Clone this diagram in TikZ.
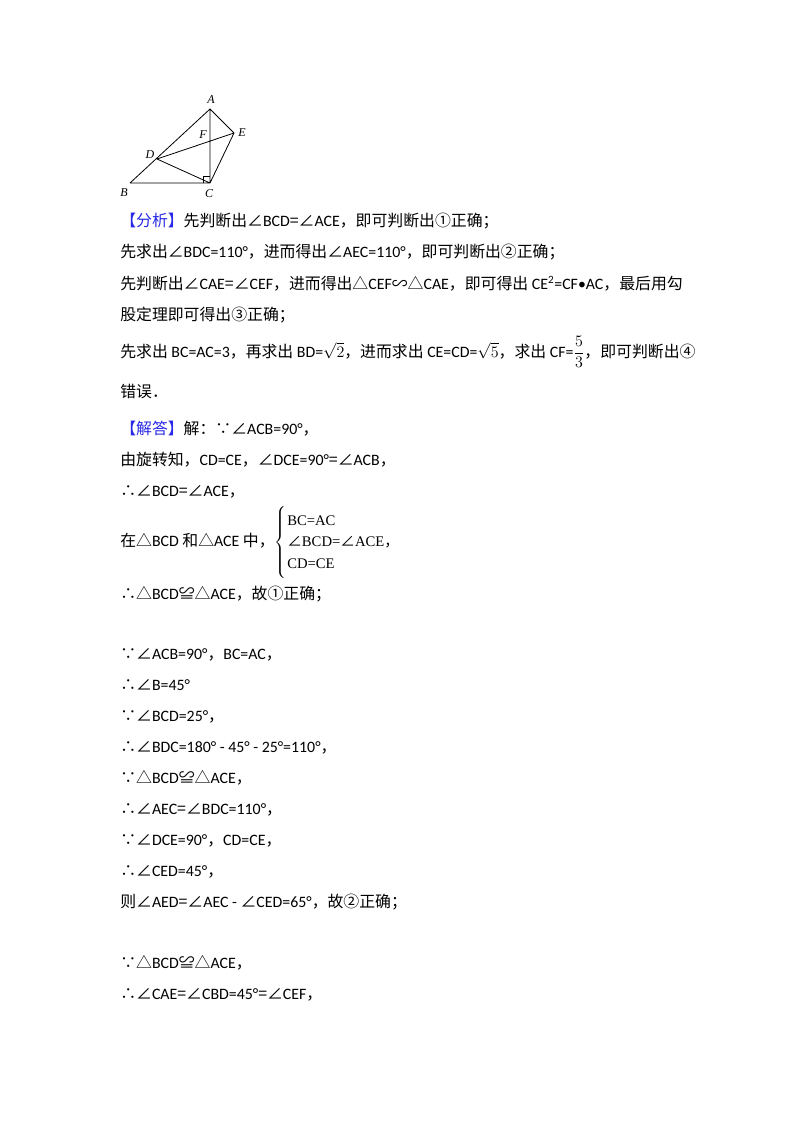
\documentclass[tikz,border=0pt]{standalone}
\usepackage{fontspec}
\setmainfont{Noto Sans CJK SC}
\newfontfamily\cjk{Noto Sans CJK SC}
\newfontfamily\lat{Carlito}
\newfontfamily\serifit{Liberation Serif}
\definecolor{hblue}{RGB}{40,40,230}
\begin{document}
\begin{tikzpicture}[x=0.75pt,y=-0.75pt,
  ln/.style={anchor=base west,inner sep=0,font=\fontsize{11.9pt}{13pt}\selectfont},
  lab/.style={font=\serifit\itshape\fontsize{9pt}{10pt}\selectfont,inner sep=0},
  seg/.style={line width=0.6pt}]
\useasboundingbox (0,0) rectangle (800,1132);
\coordinate (A) at (210,109);
\coordinate (B) at (130,183);
\coordinate (C) at (210,183);
\coordinate (D) at (157,159);
\coordinate (E) at (234,133);
\draw[seg] (B)--(C)--(E)--(A)--(B) (A)--(C) (D)--(C) (D)--(E);
\draw[line width=0.4pt] (203,183)--(203,176)--(210,176);
\node[lab] (la) at (211,100) {A};
\node[lab] (lb) at (124,193) {B};
\node[lab] (lc) at (209,194) {C};
\node[lab] (ld) at (150,155) {D};
\node[lab] (le) at (242,133) {E};
\node[lab] (lf) at (203,135) {F};
\node[ln] (l1) at (120,226) {{\color{hblue}【分析】}先判断出∠{\lat BCD}=∠{\lat ACE}，即可判断出①正确；};
\node[ln] (l2) at (120,257) {先求出∠{\lat BDC=110°}，进而得出∠{\lat AEC=110°}，即可判断出②正确；};
\node[ln] (l3) at (120,289) {先判断出∠{\lat CAE}=∠{\lat CEF}，进而得出△{\lat CEF}∽△{\lat CAE}，即可得出 {\lat CE\textsuperscript{2}=CF•AC}，最后用勾};
\node[ln] (l4) at (120,320) {股定理即可得出③正确；};
\node[ln] (l5) at (120,357) {先求出 {\lat BC=AC=3}，再求出 {\lat BD=}$\sqrt{2}$，进而求出 {\lat CE=CD=}$\sqrt{5}$，求出 {\lat CF=}$\displaystyle\frac{5}{3}$，即可判断出④};
\node[ln] (l6) at (120,397) {错误．};
\node[ln] (l7) at (120,434) {{\color{hblue}【解答】}解：∵∠{\lat ACB=90°}，};
\node[ln] (l8) at (120,465) {由旋转知，{\lat CD=CE}，∠{\lat DCE=90°}=∠{\lat ACB}，};
\node[ln] (l9) at (120,496) {∴∠{\lat BCD}=∠{\lat ACE}，};
\node[ln] (l10) at (120,546) {在△{\lat BCD} 和△{\lat ACE} 中，$\left\{\vphantom{\rule{0pt}{30pt}}\right.$};
\node[anchor=west,inner sep=0,font=\serifit\fontsize{11pt}{12pt}\selectfont,align=left] (sys) at (287,542)
  {BC=AC\\[4pt] {\cjk ∠}BCD={\cjk ∠}ACE{\cjk ，}\\[4pt] CD=CE};
\node[ln] (l11) at (120,599) {∴△{\lat BCD}≌△{\lat ACE}，故①正确；};
\node[ln] (l12) at (120,659) {∵∠{\lat ACB=90°}，{\lat BC=AC}，};
\node[ln] (l13) at (120,690) {∴∠{\lat B=45°}};
\node[ln] (l14) at (120,721) {∵∠{\lat BCD=25°}，};
\node[ln] (l15) at (120,752) {∴∠{\lat BDC=180° - 45° - 25°=110°}，};
\node[ln] (l16) at (120,783) {∵△{\lat BCD}≌△{\lat ACE}，};
\node[ln] (l17) at (120,814) {∴∠{\lat AEC}=∠{\lat BDC=110°}，};
\node[ln] (l18) at (120,845) {∵∠{\lat DCE=90°}，{\lat CD=CE}，};
\node[ln] (l19) at (120,876) {∴∠{\lat CED=45°}，};
\node[ln] (l20) at (120,907) {则∠{\lat AED}=∠{\lat AEC -} ∠{\lat CED=65°}，故②正确；};
\node[ln] (l21) at (120,968) {∵△{\lat BCD}≌△{\lat ACE}，};
\node[ln] (l22) at (120,999) {∴∠{\lat CAE}=∠{\lat CBD=45°}=∠{\lat CEF}，};
\end{tikzpicture}
\end{document}
